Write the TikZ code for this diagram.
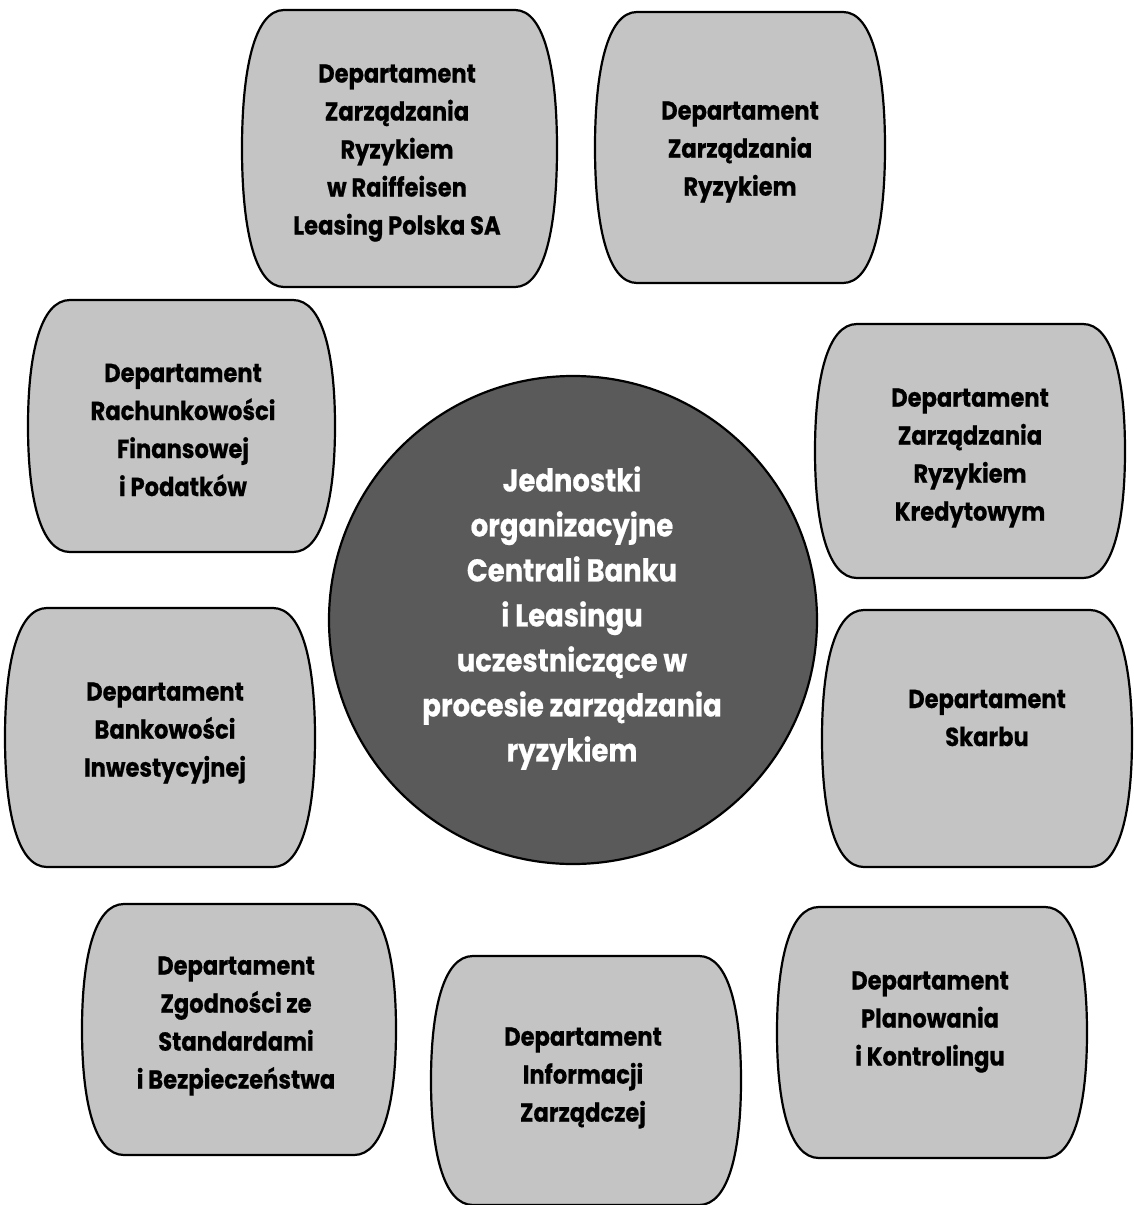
\documentclass[tikz,border=0pt]{standalone}
\usepackage{fontspec}
\newfontfamily\deptfont{Poppins}[FakeStretch=0.87, FakeBold=0.6]
\definecolor{boxgray}{HTML}{C4C4C4}
\definecolor{coregray}{HTML}{5A5A5A}
\tikzset{
  boxshape/.style={draw=black, line width=2.2pt, fill=boxgray},
  depttext/.style={align=center, text=black, font=\deptfont\bfseries\fontsize{26}{38}\selectfont},
  coreshape/.style={circle, draw=black, line width=2.2pt, fill=coregray, minimum size=488pt, inner sep=0pt},
  coretext/.style={align=center, text=white, font=\deptfont\bfseries\fontsize{31.5}{45}\selectfont}
}
% barrel-shaped department box: L, T, R, B
\newcommand\barrelbox[4]{%
  \filldraw[boxshape] ({#1+42},#2) -- ({#3-42},#2)
    .. controls ({#3-12},#2) and (#3,{#2+0.22*(#4-#2)}) .. (#3,{0.5*(#2+#4)})
    .. controls (#3,{#4-0.22*(#4-#2)}) and ({#3-12},#4) .. ({#3-42},#4)
    -- ({#1+42},#4)
    .. controls ({#1+12},#4) and (#1,{#4-0.22*(#4-#2)}) .. (#1,{0.5*(#2+#4)})
    .. controls (#1,{#2+0.22*(#4-#2)}) and ({#1+12},#2) .. cycle;}
\begin{document}
\begin{tikzpicture}[x=1pt, y=-1pt]
\useasboundingbox (0,0) rectangle (1133,1205);
\fill[white] (0,0) rectangle (1133,1205);

% central circle
\node[coreshape] (core) at (573,620) {};
\node[coretext] (coretxt) at (572,618) {Jednostki\\organizacyjne\\Centrali Banku\\i Leasingu\\uczestniczące w\\procesie zarządzania\\ryzykiem};

% department boxes
\barrelbox{242}{10}{557}{287}
\node[depttext] (d1) at (397,153) {Departament\\Zarządzania\\Ryzykiem\\w Raiffeisen\\Leasing Polska SA};

\barrelbox{595}{12}{885}{283}
\node[depttext] (d2) at (740,152) {Departament\\Zarządzania\\Ryzykiem};

\barrelbox{28}{300}{335}{552}
\node[depttext] (d3) at (183,430) {Departament\\Rachunkowości\\Finansowej\\i Podatków};

\barrelbox{815}{324}{1125}{578}
\node[depttext] (d4) at (970,458) {Departament\\Zarządzania\\Ryzykiem\\Kredytowym};

\barrelbox{5}{608}{315}{867}
\node[depttext] (d5) at (165,733) {Departament\\Bankowości\\Inwestycyjnej};

\barrelbox{822}{610}{1132}{867}
\node[depttext] (d6) at (987,718) {Departament\\Skarbu};

\barrelbox{82}{904}{396}{1155}
\node[depttext] (d7) at (236,1026) {Departament\\Zgodności ze\\Standardami\\i Bezpieczeństwa};

\barrelbox{431}{956}{741}{1205}
\node[depttext] (d8) at (583,1078) {Departament\\Informacji\\Zarządczej};

\barrelbox{777}{907}{1087}{1158}
\node[depttext] (d9) at (930,1022) {Departament\\Planowania\\i Kontrolingu};
\end{tikzpicture}
\end{document}
